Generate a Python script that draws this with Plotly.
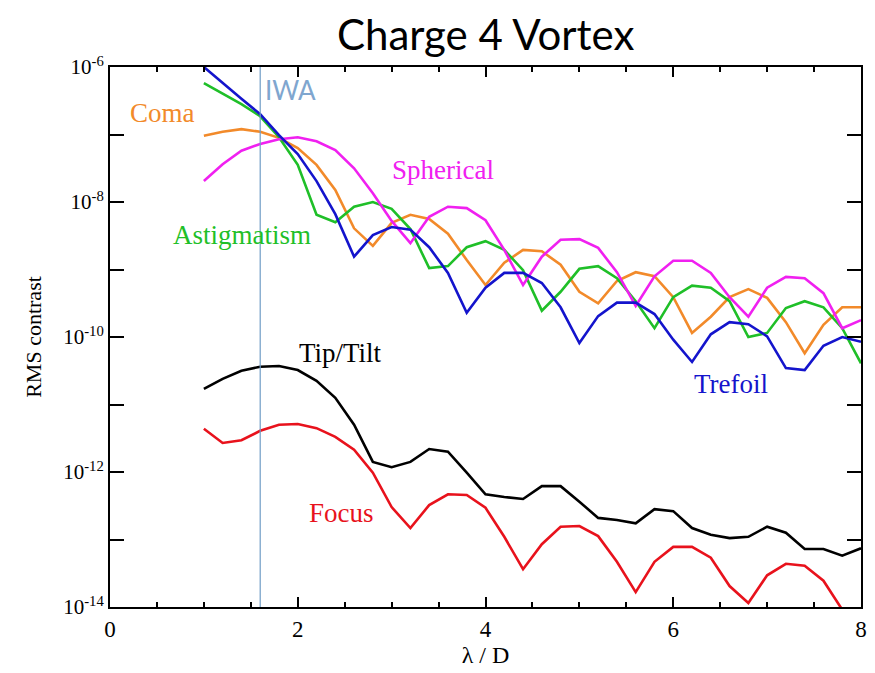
import numpy as np
import plotly.graph_objects as go

# lambda/D sample points
x_vals = [1.0, 1.2, 1.4, 1.6, 1.8, 2.0, 2.2, 2.4, 2.6, 2.8, 3.0, 3.2, 3.4, 3.6, 3.8,
          4.0, 4.2, 4.4, 4.6, 4.8, 5.0, 5.2, 5.4, 5.6, 5.8, 6.0, 6.2, 6.4, 6.6, 6.8,
          7.0, 7.2, 7.4, 7.6, 7.8, 8.0]

# log10 of RMS contrast
trefoil_log = [-6.00, -6.24, -6.47, -6.70, -7.01, -7.29, -7.69, -8.18, -8.81, -8.49,
               -8.37, -8.41, -8.67, -9.05, -9.64, -9.27, -9.05, -9.05, -9.20, -9.56,
               -10.09, -9.69, -9.49, -9.49, -9.66, -10.04, -10.37, -9.96, -9.78, -9.81,
               -9.99, -10.46, -10.49, -10.13, -10.00, -10.07]
astig_log = [-6.24, -6.40, -6.55, -6.73, -7.04, -7.45, -8.19, -8.30, -8.07, -8.00,
             -8.10, -8.40, -8.98, -8.95, -8.67, -8.58, -8.71, -9.01, -9.61, -9.33,
             -8.99, -8.95, -9.13, -9.47, -9.87, -9.41, -9.24, -9.27, -9.47, -10.00,
             -9.94, -9.57, -9.47, -9.56, -9.87, -10.39]
coma_log = [-7.02, -6.96, -6.92, -6.96, -7.05, -7.20, -7.45, -7.82, -8.39, -8.65,
            -8.31, -8.19, -8.25, -8.47, -8.86, -9.23, -8.90, -8.71, -8.73, -8.93,
            -9.33, -9.50, -9.17, -9.04, -9.10, -9.41, -9.94, -9.70, -9.41, -9.29,
            -9.42, -9.78, -10.24, -9.82, -9.56, -9.56]
spherical_log = [-7.69, -7.44, -7.24, -7.14, -7.07, -7.04, -7.10, -7.23, -7.50, -7.87,
                 -8.28, -8.61, -8.22, -8.07, -8.09, -8.27, -8.71, -9.23, -8.81, -8.56,
                 -8.55, -8.68, -9.04, -9.54, -9.10, -8.87, -8.87, -9.05, -9.41, -9.70,
                 -9.27, -9.11, -9.13, -9.35, -9.87, -9.75]
tiptilt_log = [-10.77, -10.62, -10.50, -10.44, -10.43, -10.49, -10.65, -10.90, -11.30, -11.85,
               -11.93, -11.85, -11.66, -11.70, -12.01, -12.33, -12.37, -12.40, -12.21, -12.21,
               -12.44, -12.68, -12.71, -12.76, -12.55, -12.58, -12.83, -12.93, -12.98, -12.96,
               -12.81, -12.90, -13.14, -13.14, -13.24, -13.13]
focus_log = [-11.36, -11.57, -11.53, -11.39, -11.30, -11.29, -11.35, -11.48, -11.67, -12.01,
             -12.52, -12.83, -12.49, -12.33, -12.34, -12.53, -12.96, -13.44, -13.07, -12.81,
             -12.80, -12.95, -13.33, -13.78, -13.33, -13.11, -13.11, -13.27, -13.69, -13.94,
             -13.53, -13.36, -13.39, -13.61, -14.04, -14.50]

iwa = 1.6

x_tick_vals = [0, 2, 4, 6, 8]
x_tick_text = ["0", "2", "4", "6", "8"]
y_major_exp = [-14, -12, -10, -8, -6]
y_minor_exp = [-13, -11, -9, -7]
y_tick_text = ["10<sup>%d</sup>" % e for e in y_major_exp]

series = [
    ("Tip/Tilt", tiptilt_log, "#000000"),
    ("Focus", focus_log, "#E8121C"),
    ("Coma", coma_log, "#F28A2A"),
    ("Astigmatism", astig_log, "#1FBF28"),
    ("Spherical", spherical_log, "#F020F0"),
    ("Trefoil", trefoil_log, "#1414CC"),
]

fig = go.Figure()
for name, vals, col in series:
    fig.add_trace(go.Scatter(x=x_vals, y=[10 ** v for v in vals], mode="lines",
                             name=name, line=dict(color=col, width=2.6),
                             showlegend=False))

fig.add_shape(type="line", xref="x", yref="paper", x0=iwa, x1=iwa, y0=0, y1=1,
              line=dict(color="#6F9CC6", width=1.2))

serif = "Liberation Serif"
labels = [
    ("IWA", 1.63, -6.34, "#7FA6CF", "Lato", 26, "left"),
    ("Coma", 0.56, -6.68, "#F28A2A", serif, 27, "center"),
    ("Spherical", 3.55, -7.53, "#F020F0", serif, 27, "center"),
    ("Astigmatism", 1.41, -8.49, "#1FBF28", serif, 27, "center"),
    ("Tip/Tilt", 2.46, -10.24, "#000000", serif, 27, "center"),
    ("Trefoil", 6.61, -10.70, "#1414CC", serif, 27, "center"),
    ("Focus", 2.47, -12.61, "#E8121C", serif, 27, "center"),
]
for txt, xx, yy, col, fam, sz, xa in labels:
    fig.add_annotation(x=xx, y=yy, xref="x", yref="y", text=txt, showarrow=False,
                       xanchor=xa, yanchor="middle",
                       font=dict(family=fam, size=sz, color=col))

fig.update_layout(
    width=875, height=673,
    paper_bgcolor="white", plot_bgcolor="white",
    margin=dict(l=110, r=8, t=67, b=66),
    title=dict(text="Charge 4 Vortex", x=0.555, xanchor="center", y=0.948, yanchor="middle",
               font=dict(family="Lato", size=42, color="#000000")),
    xaxis=dict(range=[0, 8], tickvals=x_tick_vals, ticktext=x_tick_text,
               ticks="inside", ticklen=10, tickwidth=1.5, tickcolor="black",
               minor=dict(dtick=0.5, ticks="inside", ticklen=5, tickwidth=1.5, tickcolor="black"),
               showline=True, linecolor="black", linewidth=2, mirror="ticks",
               showgrid=False, zeroline=False,
               tickfont=dict(family=serif, size=23, color="black"),
               title=dict(text="λ / D", font=dict(family=serif, size=24, color="black"), standoff=2)),
    yaxis=dict(type="log", range=[-14, -6],
               tickvals=[10.0 ** e for e in y_major_exp], ticktext=y_tick_text,
               ticks="inside", ticklen=14, tickwidth=1.5, tickcolor="black",
               minor=dict(tickvals=[10.0 ** e for e in y_minor_exp], ticks="inside",
                          ticklen=14, tickwidth=1.5, tickcolor="black", showgrid=False),
               showline=True, linecolor="black", linewidth=2, mirror="ticks",
               showgrid=False, zeroline=False,
               tickfont=dict(family=serif, size=21, color="black"),
               title=dict(text="RMS contrast", font=dict(family=serif, size=22, color="black"), standoff=16)),
)

fig.write_html("out.html", config={"displayModeBar": False},
               post_script="document.body.style.margin='0';document.body.style.overflow='hidden';")
